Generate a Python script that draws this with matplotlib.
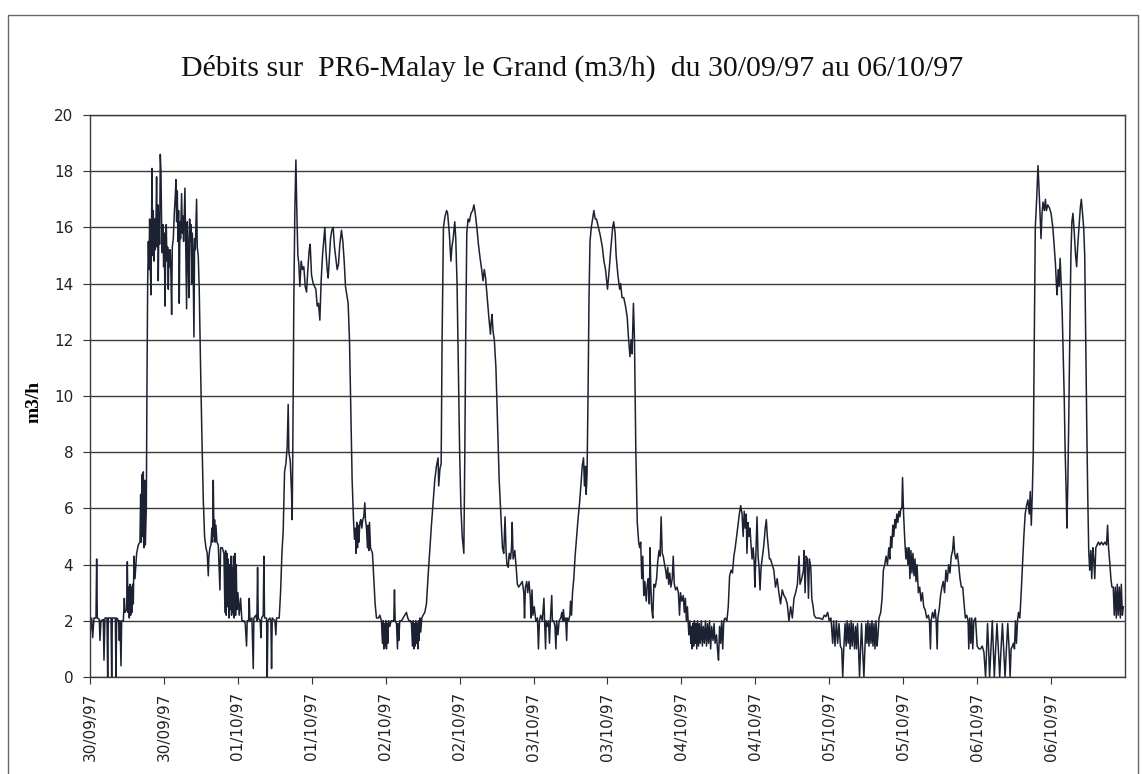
import numpy as np
import matplotlib
matplotlib.use("Agg")
import matplotlib.pyplot as plt
from matplotlib.patches import Rectangle

# heures depuis le 30/09/97 00:00, debits en m3/h
heures = [
    0.0, 0.27, 0.43, 0.65, 0.97, 1.08, 1.19, 1.51, 1.62, 1.78,
    2.16, 2.27, 2.43, 2.76, 2.87, 2.97, 3.41, 3.52, 3.62, 4.11,
    4.22, 4.33, 4.65, 4.76, 4.87, 5.03, 5.14, 5.41, 5.57, 5.68,
    5.95, 6.06, 6.16, 6.27, 6.38, 6.49, 6.60, 6.70, 6.81, 6.92,
    7.03, 7.14, 7.30, 7.57, 7.84, 8.11, 8.22, 8.33, 8.44, 8.54,
    8.65, 8.76, 8.87, 8.98, 9.14, 9.25, 9.36, 9.47, 9.57, 9.68,
    9.79, 9.90, 10.00, 10.06, 10.17, 10.27, 10.38, 10.49, 10.60, 10.71,
    10.81, 10.92, 11.03, 11.08, 11.19, 11.30, 11.41, 11.52, 11.63, 11.73,
    11.84, 11.95, 12.06, 12.17, 12.27, 12.38, 12.49, 12.60, 12.71, 12.81,
    12.92, 13.03, 13.14, 13.25, 13.36, 13.52, 13.68, 13.84, 13.95, 14.06,
    14.17, 14.28, 14.38, 14.49, 14.60, 14.70, 14.87, 14.98, 15.09, 15.19,
    15.30, 15.41, 15.52, 15.68, 15.79, 15.90, 16.06, 16.17, 16.28, 16.38,
    16.49, 16.60, 16.71, 16.87, 16.98, 17.09, 17.19, 17.30, 17.41, 17.57,
    17.73, 17.95, 18.17, 18.39, 18.60, 18.82, 19.03, 19.20, 19.30, 19.47,
    19.63, 19.79, 19.90, 20.01, 20.12, 20.22, 20.33, 20.44, 20.60, 20.82,
    21.09, 21.20, 21.47, 21.74, 21.90, 22.01, 22.11, 22.22, 22.33, 22.44,
    22.55, 22.66, 22.76, 22.87, 22.98, 23.09, 23.20, 23.30, 23.41, 23.52,
    23.63, 23.74, 23.85, 24.01, 24.22, 24.44, 24.66, 24.98, 25.20, 25.41,
    25.52, 25.74, 25.85, 25.95, 26.28, 26.50, 26.60, 26.93, 27.09, 27.20,
    27.31, 27.63, 27.74, 27.85, 28.12, 28.23, 28.33, 28.66, 28.77, 28.88,
    29.20, 29.36, 29.47, 29.58, 30.01, 30.17, 30.28, 30.71, 30.93, 31.15,
    31.36, 31.58, 31.80, 32.01, 32.17, 32.28, 32.50, 32.72, 32.82, 32.93,
    33.09, 33.25, 33.42, 33.58, 33.74, 33.90, 34.06, 34.28, 34.50, 34.71,
    34.93, 35.15, 35.36, 35.58, 35.74, 35.96, 36.23, 36.44, 36.66, 36.88,
    37.09, 37.31, 37.52, 37.74, 37.96, 38.12, 38.28, 38.50, 38.66, 38.82,
    39.04, 39.25, 39.47, 39.69, 39.90, 40.12, 40.34, 40.55, 40.82, 41.04,
    41.26, 41.47, 41.69, 41.90, 42.12, 42.34, 42.55, 42.77, 42.93, 43.09,
    43.20, 43.31, 43.42, 43.53, 43.64, 43.80, 43.96, 44.12, 44.28, 44.44,
    44.61, 44.71, 44.88, 45.04, 45.15, 45.26, 45.37, 45.53, 45.69, 45.85,
    46.07, 46.28, 46.50, 46.82, 47.04, 47.31, 47.47, 47.58, 47.69, 47.80,
    47.90, 48.01, 48.12, 48.23, 48.34, 48.45, 48.66, 48.88, 49.10, 49.31,
    49.42, 49.53, 49.75, 49.91, 50.01, 50.12, 50.28, 50.55, 50.82, 51.09,
    51.36, 51.58, 51.80, 52.02, 52.18, 52.34, 52.45, 52.56, 52.66, 52.77,
    52.88, 52.99, 53.10, 53.21, 53.32, 53.42, 53.53, 53.69, 53.85, 54.07,
    54.34, 54.61, 54.88, 55.15, 55.42, 55.69, 55.96, 56.23, 56.50, 56.60,
    56.80, 57.00, 57.15, 57.37, 57.63, 57.89, 58.05, 58.32, 58.58, 58.74,
    58.95, 59.21, 59.37, 59.58, 59.79, 60.00, 60.21, 60.42, 60.68, 60.84,
    61.00, 61.16, 61.37, 61.58, 61.84, 62.11, 62.32, 62.53, 62.79, 63.05,
    63.32, 63.58, 63.79, 64.00, 64.21, 64.47, 64.74, 65.00, 65.11, 65.26,
    65.42, 65.63, 65.89, 66.16, 66.42, 66.74, 66.95, 67.16, 67.37, 67.53,
    67.68, 67.89, 68.05, 68.26, 68.42, 68.53, 68.68, 68.95, 69.21, 69.37,
    69.58, 69.89, 70.16, 70.42, 70.53, 70.68, 70.89, 71.05, 71.26, 71.47,
    71.58, 71.74, 71.89, 72.11, 72.37, 72.63, 72.79, 72.95, 73.16, 73.42,
    73.68, 73.79, 73.95, 74.05, 74.21, 74.42, 74.58, 74.74, 74.95, 75.05,
    75.26, 75.47, 75.63, 75.74, 75.95, 76.16, 76.42, 76.58, 76.74, 76.84,
    77.00, 77.21, 77.37, 77.47, 77.68, 77.89, 78.00, 78.16, 78.32, 78.53,
    78.74, 78.95, 79.21, 79.47, 79.74, 79.89, 80.11, 80.26, 80.42, 80.53,
    80.68, 80.84, 81.00, 81.16, 81.37, 81.58, 81.79, 82.00, 82.21, 82.53,
    82.84, 83.16, 83.42, 83.68, 84.00, 84.28, 84.56, 84.84, 85.01, 85.24,
    85.40, 85.69, 85.97, 86.13, 86.36, 86.64, 86.92, 87.20, 87.43, 87.65,
    87.82, 87.99, 88.21, 88.38, 88.60, 88.83, 89.06, 89.22, 89.39, 89.56,
    89.72, 89.89, 90.06, 90.29, 90.46, 90.62, 90.79, 90.91, 91.02, 91.19,
    91.35, 91.53, 91.75, 91.97, 92.15, 92.37, 92.53, 92.71, 92.88, 93.05,
    93.27, 93.44, 93.61, 93.78, 93.94, 94.11, 94.28, 94.51, 94.67, 94.84,
    95.06, 95.29, 95.51, 95.69, 95.85, 96.07, 96.30, 96.47, 96.64, 96.80,
    96.97, 97.20, 97.37, 97.53, 97.64, 97.75, 97.87, 97.98, 98.10, 98.21,
    98.33, 98.49, 98.61, 98.78, 98.89, 99.06, 99.23, 99.40, 99.56, 99.73,
    99.90, 100.07, 100.24, 100.40, 100.57, 100.74, 100.91, 101.13, 101.30, 101.46,
    101.69, 101.85, 102.02, 102.19, 102.36, 102.53, 102.70, 102.87, 103.10, 103.38,
    103.60, 103.82, 104.06, 104.28, 104.51, 104.73, 104.96, 105.18, 105.40, 105.62,
    105.84, 106.02, 106.19, 106.36, 106.52, 106.63, 106.81, 106.97, 107.13, 107.30,
    107.47, 107.64, 107.81, 107.92, 108.10, 108.27, 108.44, 108.60, 108.76, 108.93,
    109.16, 109.38, 109.60, 109.78, 109.94, 110.11, 110.28, 110.45, 110.73, 111.00,
    111.27, 111.54, 111.82, 112.09, 112.36, 112.64, 112.91, 113.18, 113.45, 113.73,
    114.00, 114.27, 114.54, 114.82, 115.09, 115.25, 115.53, 115.80, 115.91, 116.07,
    116.24, 116.45, 116.62, 116.78, 117.00, 117.16, 117.38, 117.55, 117.82, 118.36,
    118.91, 119.18, 119.45, 119.73, 120.00, 120.27, 120.55, 120.71, 120.93, 121.15,
    121.36, 121.58, 121.80, 122.02, 122.18, 122.35, 122.56, 122.73, 122.89, 123.06,
    123.22, 123.38, 123.55, 123.71, 123.87, 124.09, 124.26, 124.42, 124.58, 124.75,
    124.91, 125.07, 125.24, 125.40, 125.62, 125.78, 125.95, 126.11, 126.27, 126.44,
    126.60, 126.77, 126.93, 127.09, 127.26, 127.42, 127.58, 127.75, 127.91, 128.07,
    128.35, 128.57, 128.78, 129.00, 129.22, 129.44, 129.66, 129.82, 129.98, 130.15,
    130.31, 130.47, 130.64, 130.80, 130.96, 131.13, 131.29, 131.46, 131.62, 131.78,
    131.89, 132.06, 132.27, 132.44, 132.60, 132.77, 132.93, 133.09, 133.26, 133.42,
    133.58, 133.75, 133.91, 134.08, 134.24, 134.46, 134.68, 134.89, 135.11, 135.33,
    135.55, 135.82, 136.09, 136.26, 136.42, 136.53, 136.75, 136.97, 137.18, 137.35,
    137.51, 137.62, 137.84, 138.06, 138.28, 138.50, 138.71, 138.93, 139.15, 139.37,
    139.59, 139.80, 140.02, 140.19, 140.35, 140.57, 140.79, 141.00, 141.22, 141.44,
    141.66, 141.88, 142.09, 142.31, 142.53, 142.64, 142.80, 142.97, 143.13, 143.29,
    143.46, 143.73, 144.00, 144.28, 144.55, 144.82, 145.09, 145.37, 145.53, 145.69,
    145.86, 146.02, 146.24, 146.46, 146.62, 146.79, 147.00, 147.22, 147.44, 147.66,
    147.88, 148.10, 148.31, 148.53, 148.75, 148.97, 149.19, 149.35, 149.51, 149.73,
    149.89, 150.06, 150.22, 150.38, 150.55, 150.71, 150.93, 151.15, 151.37, 151.58,
    151.80, 152.02, 152.24, 152.46, 152.62, 152.79, 152.95, 153.11, 153.28, 153.44,
    153.66, 153.88, 154.04, 154.20, 154.37, 154.53, 154.69, 154.91, 155.08, 155.24,
    155.46, 155.73, 156.00, 156.28, 156.49, 156.71, 156.88, 156.98, 157.15, 157.31,
    157.47, 157.64, 157.80, 157.97, 158.13, 158.29, 158.46, 158.57, 158.73, 158.89,
    159.06, 159.22, 159.38, 159.55, 159.77, 159.98, 160.15, 160.31, 160.53, 160.75,
    160.91, 161.07, 161.29, 161.46, 161.62, 161.79, 161.95, 162.11, 162.27, 162.44,
    162.60, 162.77, 162.93, 163.09, 163.26, 163.48, 163.69, 163.91, 164.18, 164.46,
    164.73, 165.00, 165.17, 165.33, 165.55, 165.71, 165.88, 166.09, 166.26, 166.42,
    166.59, 166.75, 166.91, 167.08, 167.24, 167.40, 167.57, 167.73,
]

debits = [
    1.5, 2.1, 1.4, 2.1, 2.1, 4.2, 2.1, 2.05, 1.3, 2.0,
    2.05, 0.6, 2.1, 2.1, 0.0, 2.1, 2.1, 0.0, 2.1, 2.1,
    0.0, 2.1, 2.0, 1.3, 2.0, 0.4, 2.0, 2.0, 2.8, 2.3,
    2.4, 4.1, 2.3, 3.2, 2.1, 3.3, 2.2, 3.2, 2.3, 3.3,
    2.6, 4.3, 3.5, 4.4, 4.7, 4.8, 6.5, 4.8, 7.2, 5.0,
    7.3, 4.6, 7.0, 4.7, 6.0, 10.5, 14.0, 15.5, 14.5, 16.3,
    14.6, 13.6, 16.4, 18.1, 15.0, 16.6, 14.8, 16.3, 15.2, 16.2,
    17.8, 15.3, 16.8, 14.1, 16.5, 15.4, 18.6, 18.0, 16.0, 15.1,
    16.1, 14.6, 15.8, 13.2, 15.0, 16.1, 14.8, 15.3, 13.8, 15.2,
    14.6, 15.2, 14.3, 12.9, 15.3, 15.6, 16.5, 17.1, 17.7, 16.2,
    17.3, 15.5, 16.6, 13.3, 16.2, 15.6, 17.2, 15.8, 16.4, 15.5,
    16.5, 17.4, 15.6, 13.1, 16.2, 15.4, 13.5, 16.3, 15.5, 16.1,
    14.0, 15.8, 15.3, 12.1, 15.6, 15.2, 16.0, 17.0, 15.3, 15.0,
    13.8, 11.0, 8.5, 6.3, 5.0, 4.6, 4.4, 3.6, 4.3, 4.6,
    4.7, 5.3, 4.8, 7.0, 5.0, 5.6, 4.8, 5.4, 4.8, 4.7,
    3.1, 4.6, 4.6, 4.4, 2.3, 4.5, 2.2, 4.4, 2.5, 4.2,
    2.1, 4.0, 2.4, 4.3, 2.2, 3.9, 2.3, 4.3, 2.1, 4.4,
    2.2, 4.0, 2.4, 3.0, 2.2, 2.8, 2.0, 2.0, 1.9, 1.1,
    2.0, 2.0, 2.8, 2.0, 2.1, 0.3, 2.1, 2.2, 2.0, 3.9,
    2.1, 2.0, 1.4, 2.1, 2.2, 4.3, 2.1, 2.1, 0.0, 2.0,
    2.1, 2.0, 0.3, 2.1, 2.0, 1.5, 2.1, 2.1, 3.0, 4.4,
    5.2, 7.3, 7.6, 8.2, 9.7, 8.0, 7.7, 6.5, 5.6, 8.5,
    13.5, 16.6, 18.4, 16.5, 15.0, 14.7, 13.9, 14.8, 14.5, 14.6,
    13.9, 13.7, 14.5, 15.2, 15.4, 14.3, 14.0, 13.9, 13.8, 13.2,
    13.3, 12.7, 14.1, 15.0, 15.6, 16.0, 15.2, 14.5, 14.2, 14.8,
    15.6, 15.9, 16.0, 15.3, 14.9, 14.5, 14.7, 15.4, 15.9, 15.5,
    14.8, 13.9, 13.6, 13.3, 12.0, 9.5, 7.0, 5.6, 4.9, 5.3,
    4.4, 5.5, 4.6, 5.4, 4.8, 5.5, 5.6, 5.3, 5.6, 5.7,
    6.2, 5.6, 5.3, 4.6, 5.4, 4.5, 5.5, 4.6, 4.5, 4.4,
    3.5, 2.6, 2.1, 2.1, 2.2, 2.0, 1.2, 2.0, 1.0, 1.9,
    1.1, 2.0, 1.0, 1.9, 1.2, 2.0, 1.8, 2.0, 2.0, 2.0,
    3.1, 2.0, 1.9, 1.0, 1.9, 1.3, 2.0, 2.0, 2.1, 2.2,
    2.3, 2.1, 2.0, 2.0, 1.9, 1.1, 2.0, 1.0, 1.9, 1.1,
    2.0, 1.2, 1.9, 1.0, 2.0, 1.3, 2.1, 1.6, 2.1, 2.2,
    2.3, 2.6, 3.6, 4.5, 5.4, 6.2, 7.0, 7.5, 7.8, 6.8,
    7.4, 7.6, 12.0, 16.0, 16.4, 16.6, 16.5, 15.8, 14.8, 15.3,
    15.6, 16.2, 15.6, 14.0, 11.0, 8.0, 6.0, 5.0, 4.4, 8.0,
    12.5, 15.8, 16.3, 16.2, 16.5, 16.6, 16.8, 16.5, 16.0, 15.4,
    14.9, 14.5, 14.1, 14.5, 14.2, 13.5, 12.8, 12.2, 12.6, 12.9,
    12.3, 12.0, 11.0, 9.0, 7.0, 5.5, 4.6, 4.4, 5.7, 4.5,
    4.0, 3.9, 4.4, 4.2, 4.6, 5.5, 4.2, 4.5, 3.8, 3.3,
    3.2, 3.3, 3.4, 3.0, 2.1, 3.2, 3.4, 3.0, 3.4, 2.8,
    2.1, 3.1, 2.2, 2.5, 2.0, 2.1, 1.0, 2.0, 2.2, 2.0,
    2.8, 2.0, 1.0, 2.0, 1.8, 2.0, 1.2, 2.1, 2.9, 2.0,
    2.0, 1.8, 1.0, 2.0, 1.5, 2.0, 2.1, 2.3, 2.0, 2.4,
    2.0, 2.1, 1.3, 2.1, 2.0, 2.2, 2.7, 2.2, 3.0, 3.5,
    4.3, 4.9, 5.6, 6.2, 7.0, 7.5, 7.8, 6.8, 7.5, 6.5,
    7.2, 10.0, 13.5, 15.5, 16.0, 16.3, 16.6, 16.3, 16.3, 16.0,
    15.7, 15.3, 14.8, 14.5, 13.8, 14.5, 15.3, 16.0, 16.2, 15.8,
    15.0, 14.3, 13.8, 14.0, 13.5, 13.5, 13.2, 12.8, 12.0, 11.4,
    12.0, 11.5, 13.3, 12.0, 8.0, 5.5, 4.8, 4.6, 4.8, 3.5,
    4.3, 2.9, 3.4, 2.7, 3.3, 3.5, 2.6, 4.6, 3.3, 2.4,
    2.1, 3.3, 3.2, 3.5, 4.1, 4.5, 4.3, 5.7, 4.4, 4.3,
    4.0, 3.8, 3.5, 3.9, 3.3, 3.7, 3.2, 3.5, 4.3, 3.3,
    3.1, 3.2, 3.0, 2.2, 3.0, 2.7, 2.9, 2.3, 2.8, 2.0,
    2.5, 1.5, 2.0, 1.2, 1.8, 1.0, 1.9, 1.1, 2.0, 1.2,
    1.9, 1.0, 2.0, 1.1, 1.9, 1.2, 2.0, 1.1, 1.8, 1.2,
    2.0, 1.1, 1.9, 1.2, 2.0, 1.0, 1.8, 1.3, 1.9, 1.2,
    1.5, 1.0, 0.6, 1.8, 1.2, 2.0, 1.0, 2.0, 2.1, 2.0,
    2.5, 3.6, 3.8, 3.7, 4.3, 4.6, 5.0, 5.4, 5.8, 6.1,
    5.8, 5.0, 5.9, 5.3, 5.8, 4.4, 5.5, 5.0, 5.3, 4.7,
    4.2, 4.6, 4.1, 3.2, 4.5, 5.7, 4.3, 3.9, 3.1, 3.9,
    4.3, 4.7, 5.3, 5.6, 5.0, 4.6, 4.2, 4.2, 4.0, 3.8,
    3.2, 3.5, 3.0, 2.6, 3.1, 2.9, 2.8, 2.6, 2.0, 2.5,
    2.1, 2.8, 3.0, 3.3, 4.3, 3.3, 3.5, 3.8, 4.5, 3.0,
    4.3, 4.2, 2.8, 4.2, 3.9, 2.8, 2.5, 2.2, 2.1, 2.1,
    2.05, 2.2, 2.15, 2.3, 2.0, 2.1, 1.2, 2.0, 1.1, 2.0,
    1.2, 1.9, 1.1, 1.0, 0.0, 1.0, 1.9, 1.1, 2.0, 1.2,
    1.9, 1.0, 2.0, 1.1, 1.9, 1.0, 1.8, 1.0, 1.9, 1.0,
    0.0, 1.0, 1.9, 1.0, 0.0, 1.0, 1.9, 1.2, 2.0, 1.1,
    1.9, 1.2, 2.0, 1.1, 1.9, 1.0, 2.0, 1.1, 1.5, 2.1,
    2.3, 2.8, 3.8, 4.0, 4.3, 4.0, 4.6, 4.2, 5.0, 4.6,
    5.4, 5.0, 5.6, 5.3, 5.8, 5.5, 5.9, 5.7, 6.0, 6.0,
    7.1, 5.8, 4.8, 4.2, 4.6, 4.0, 4.6, 3.5, 4.5, 3.7,
    4.4, 3.6, 4.2, 3.4, 4.0, 3.0, 3.2, 2.7, 3.0, 2.5,
    2.4, 2.1, 2.2, 2.0, 1.0, 2.0, 2.3, 2.1, 2.4, 2.0,
    1.0, 2.1, 2.4, 2.9, 3.2, 3.4, 3.0, 3.8, 3.4, 4.0,
    3.7, 4.3, 4.5, 5.0, 4.4, 4.2, 4.4, 4.0, 3.5, 3.2,
    3.2, 2.6, 2.1, 2.2, 2.0, 1.0, 2.1, 1.2, 2.1, 1.0,
    2.0, 2.1, 1.1, 1.0, 1.0, 1.1, 0.9, 0.0, 1.0, 1.9,
    1.0, 0.0, 1.0, 2.0, 1.0, 0.0, 1.0, 1.9, 1.0, 0.0,
    1.0, 1.9, 1.0, 0.0, 1.0, 1.9, 1.0, 0.0, 1.0, 1.1,
    1.2, 1.0, 2.0, 1.2, 2.0, 2.3, 2.1, 3.0, 4.0, 5.0,
    5.8, 6.1, 6.3, 5.8, 6.6, 5.4, 6.5, 8.0, 12.0, 16.0,
    17.0, 18.2, 17.4, 16.5, 15.6, 16.5, 16.9, 16.6, 17.0, 16.6,
    16.8, 16.7, 16.5, 16.0, 15.4, 14.7, 13.9, 13.6, 14.5, 13.9,
    14.9, 14.0, 13.0, 11.5, 10.0, 8.0, 6.5, 5.3, 7.0, 9.5,
    12.5, 15.0, 16.2, 16.5, 15.8, 15.0, 14.6, 15.3, 16.0, 16.7,
    17.0, 16.6, 16.0, 15.0, 12.0, 9.0, 6.5, 4.5, 3.8, 4.5,
    3.5, 4.6, 4.2, 3.5, 4.6, 4.7, 4.8, 4.7, 4.8, 4.7,
    4.8, 4.7, 5.4, 4.6, 4.0, 3.5, 3.2, 3.2, 2.2, 3.2,
    2.1, 3.3, 2.2, 3.2, 2.1, 3.3, 2.2, 2.5,
]

graduations_h = list(range(0, 168, 12))
etiquettes_x = ["30/09/97", "30/09/97", "01/10/97", "01/10/97", "02/10/97",
                "02/10/97", "03/10/97", "03/10/97", "04/10/97", "04/10/97",
                "05/10/97", "05/10/97", "06/10/97", "06/10/97"]
graduations_y = list(range(0, 21, 2))

plt.rcParams["font.family"] = ["Liberation Serif", "DejaVu Serif"]

W, H = 1142, 774
fig = plt.figure(figsize=(W / 100, H / 100), dpi=100)
ax = fig.add_axes([90 / W, 1 - 677 / H, (1125 - 90) / W, (677 - 115) / H])

ax.plot(heures, debits, color="#1d2233", lw=1.1)

ax.set_xlim(0, 168)
ax.set_ylim(0, 20)
ax.set_yticks(graduations_y)
ax.set_xticks(graduations_h)
ax.set_xticklabels(etiquettes_x, rotation=90)
ax.grid(axis="y", color="#3a3a3a", lw=1.0)
ax.set_axisbelow(True)

for s in ax.spines.values():
    s.set_color("#3a3a3a")
    s.set_linewidth(1.0)
ax.tick_params(axis="y", length=5, pad=7, color="#333")
ax.tick_params(axis="x", length=5, pad=6, color="#333")
for lab in ax.get_yticklabels() + ax.get_xticklabels():
    lab.set_family(["DejaVu Sans"])
    lab.set_fontsize(11)
    lab.set_color("#222")

ax.set_ylabel("m3/h", fontweight="bold", fontsize=14)
ax.yaxis.set_label_coords(-0.046, 0.49)

fig.text(0.501, 1 - 68 / H, "Débits sur  PR6-Malay le Grand (m3/h)  du 30/09/97 au 06/10/97",
         ha="center", va="center", fontsize=21.5, color="#111")

# cadre de la zone du graphique
fig.patches.append(Rectangle((8 / W, -0.02), (1138 - 8) / W, 1.02 - 15 / H,
                             transform=fig.transFigure, fill=False,
                             ec="#666666", lw=1.0))

fig.savefig("out.png", dpi=100)
